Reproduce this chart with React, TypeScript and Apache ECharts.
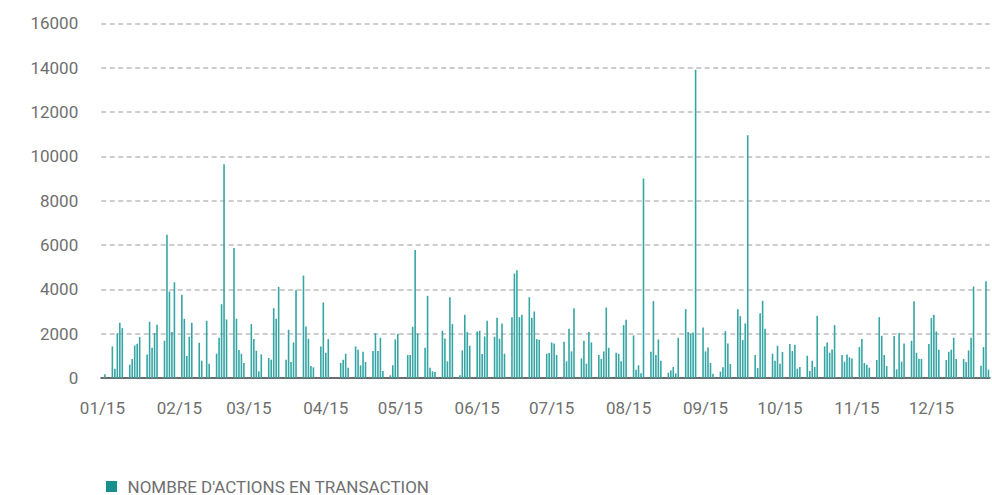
import React, { useEffect, useRef } from "react";
import * as echarts from "echarts";

const SERIES_NAME = "NOMBRE D'ACTIONS EN TRANSACTION";
const YEAR = 2015;
const LAST_MONTH = 11;
const LAST_DAY = 24;

const monthLabels = ["01/15", "02/15", "03/15", "04/15", "05/15", "06/15", "07/15", "08/15", "09/15", "10/15", "11/15", "12/15"];
const yTicks = [0, 2000, 4000, 6000, 8000, 10000, 12000, 14000, 16000];

// values per weekday (Mon-Fri) of each month, in order; null = market closed / no trade
const jan = [null, 165, 1425, 420, 2025, 2490, 2250, 600, 855, 1470, 1545, 1845, 1065, 2535, 1365, 2025, 2400, 1680, 6465, 3900, 2070, 4320];
const feb = [3750, 2670, 990, 1860, 2490, 1590, 780, null, 2580, 645, 1095, 1815, 3330, 9645, 2640, 5865, 2670, 1260, 1095, 675];
const mar = [2430, 1755, 1230, 300, 1065, 900, 825, 3150, 2670, 4110, 825, 2175, 720, 1605, 3975, 4620, 2325, 1770, 540, 480, 1425, 3405];
const apr = [1140, 1755, null, null, 675, 825, 1095, 465, 1425, 1275, 570, 1185, 720, 1215, 2025, 1215, 1815, 315, 120, 570, 1740, 1995];
const may = [null, 1035, 1035, 2310, 5775, 2010, 1365, 3705, 465, 300, 270, 2130, 1785, 750, 3645, 2430, 120, 1245, 2850, 2070, 1455];
const jun = [2100, 2130, 1080, 1875, 2580, 1860, 2715, 1770, 2460, 1095, 2745, 4710, 4860, 2745, 2850, 3645, 2715, 3000, 1755, 1725, 1095, 1125];
const jul = [1605, 1560, 1035, 1635, 750, 2220, 1200, 3150, 885, 1680, 645, 2070, 1605, 1035, 855, 1200, 3180, 1365, 1140, 1095, 750, 2385, 2625];
const aug = [1920, 375, 570, 210, 9000, 1185, 3465, 1035, 1740, 780, 240, 345, 495, 210, 1815, 3105, 2070, 1995, 2055, 13900, 2280];
const sep = [1200, 1380, 675, 195, 285, 480, 2115, 1560, 630, 3105, 2790, 1710, 2460, 10950, 1035, 450, 2925, 3480, 2220, 1095, 780, 1455];
const oct = [645, 1170, 1530, 1215, 1500, 420, 495, 1005, 315, 780, 495, 2805, 1425, 1605, 1140, 1290, 2385, 1035, 735, 1065, 930, 885];
const nov = [1395, 1755, 675, 600, 465, 810, 2745, 1905, 1035, 540, 1890, 390, 2025, 735, 1560, 1680, 3465, 1140, 870, 855, 1530];
const dec = [2700, 2850, 2100, 1275, 810, 1185, 1275, 1815, 855, 855, 720, 1245, 1815, 4125, 555, 1395, 4365, 375];

const monthValues = [jan, feb, mar, apr, may, jun, jul, aug, sep, oct, nov, dec];

function buildData() {
  const cats: string[] = [];
  const vals: (number | null)[] = [];
  const labelAt: Record<number, string> = {};
  for (let m = 0; m <= LAST_MONTH; m++) {
    const arr = monthValues[m];
    let k = 0;
    const days = new Date(Date.UTC(YEAR, m + 1, 0)).getUTCDate();
    const end = m === LAST_MONTH ? LAST_DAY : days;
    for (let d = 1; d <= end; d++) {
      const wd = new Date(Date.UTC(YEAR, m, d)).getUTCDay();
      if (d === 1) labelAt[cats.length] = monthLabels[m];
      cats.push(`${YEAR}-${String(m + 1).padStart(2, "0")}-${String(d).padStart(2, "0")}`);
      if (wd === 0 || wd === 6) vals.push(null);
      else {
        const v = arr[k++];
        vals.push(v === undefined ? null : v);
      }
    }
  }
  return { cats, vals, labelAt };
}

export default function App() {
  const ref = useRef<HTMLDivElement>(null);
  useEffect(() => {
    if (!ref.current) return;
    const chart = echarts.init(ref.current, null, { renderer: "svg" });
    const { cats, vals, labelAt } = buildData();
    const font = "Roboto, 'Liberation Sans', sans-serif";
    const gray = "#6f6f6f";
    chart.setOption({
      animation: false,
      backgroundColor: "#ffffff",
      grid: { left: 101.2, right: 2.3, top: 23.3, bottom: 117, containLabel: false },
      legend: {
        show: true,
        data: [{ name: SERIES_NAME, itemStyle: { color: "#168f8e" } }],
        left: 106,
        top: 478,
        padding: 0,
        itemWidth: 22,
        itemHeight: 11,
        icon: "path://M0,0h10v10h-10z",
        textStyle: { fontFamily: font, fontSize: 17, color: gray, lineHeight: 17 },
      },
      xAxis: {
        type: "category",
        data: cats,
        boundaryGap: true,
        axisTick: { show: false },
        axisLine: { show: true, lineStyle: { color: "#6d6d6d", width: 2 } },
        splitLine: { show: false },
        axisLabel: {
          interval: (index: number) => labelAt[index] !== undefined,
          formatter: (_v: string, index: number) => labelAt[index] ?? "",
          fontFamily: font,
          fontSize: 17,
          color: gray,
          margin: 21,
          hideOverlap: false,
        },
      },
      yAxis: {
        type: "value",
        min: yTicks[0],
        max: yTicks[yTicks.length - 1],
        interval: yTicks[1] - yTicks[0],
        axisLine: { show: false },
        axisTick: { show: false },
        axisLabel: {
          fontFamily: font,
          fontSize: 17,
          color: gray,
          margin: 23,
          formatter: (v: number) => String(v),
        },
        splitLine: { show: true, lineStyle: { color: "#bdbdbd", width: 1.5, type: [5, 3.5] } },
      },
      series: [
        {
          name: SERIES_NAME,
          type: "bar",
          data: vals,
          barWidth: 1.6,
          itemStyle: { color: "#36a6a5" },
        },
      ],
    });
    return () => chart.dispose();
  }, []);
  return <div ref={ref} style={{ position: "fixed", left: 0, top: 0, width: 992, height: 495 }} />;
}
